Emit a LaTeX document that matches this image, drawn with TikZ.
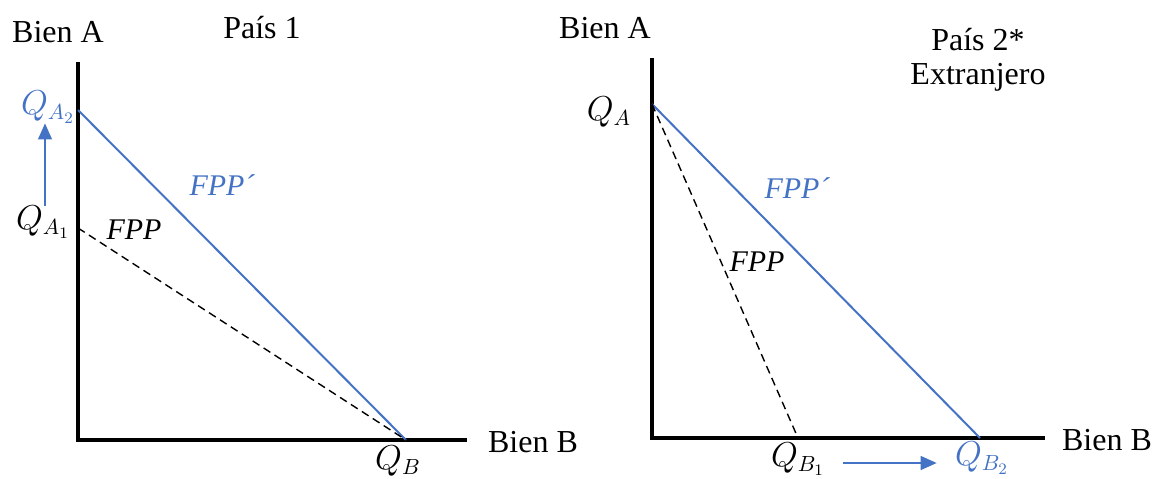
\documentclass[tikz,border=0pt]{standalone}
\usepackage{fontspec}
\setmainfont{Liberation Serif}
\usetikzlibrary{arrows.meta}
\definecolor{fppblue}{RGB}{68,114,196}

\begin{document}
\begin{tikzpicture}[x=0.5pt, y=-0.5pt,
    axisline/.style={line width=2pt},
    fppnew/.style={fppblue, line width=1pt},
    fppold/.style={line width=0.7pt, dash pattern=on 4pt off 2.5pt},
    shiftarrow/.style={fppblue, line width=0.6pt, -{Triangle[length=8pt, width=7pt]}},
    lbl/.style={font=\fontsize{16}{17}\selectfont, inner sep=0pt},
    curve/.style={font=\fontsize{15}{17}\selectfont\itshape, inner sep=0pt}]
    \useasboundingbox (0,0) rectangle (1152,478);

    % Pais 1
    \coordinate (o1) at (78,440);
    \coordinate (ytop1) at (78,62);
    \coordinate (xend1) at (467,440);
    \coordinate (a2) at (78,110);
    \coordinate (a1) at (78,228);
    \coordinate (b1) at (406,440);

    \draw[axisline] (ytop1) -- (o1) -- (xend1);
    \draw[fppnew] (a2) -- (b1);
    \draw[fppold] (a1) -- (b1);

    \node[lbl] (bienA1) at (58,32) {Bien A};
    \node[lbl] (pais1) at (262,28) {País 1};
    \node[lbl] (bienB1) at (533,442) {Bien B};
    \node[lbl, fppblue] (qa2) at (48,107) {$Q_{A_2}$};
    \node[lbl] (qa1) at (43,222) {$Q_{A_1}$};
    \node[lbl] (qb) at (398,461) {$Q_B$};
    \node[curve] (fpp1) at (134,230) {FPP};
    \node[curve, fppblue] (fppn1) at (222,185) {FPP´};
    \draw[shiftarrow] ([xshift=1pt]qa1.north) -- ([xshift=1pt]qa1.north |- qa2.south);

    % Pais 2
    \coordinate (o2) at (652,438);
    \coordinate (ytop2) at (652,58);
    \coordinate (xend2) at (1045,438);
    \coordinate (a) at (652,104);
    \coordinate (bb1) at (798,438);
    \coordinate (bb2) at (980,438);

    \draw[axisline] (ytop2) -- (o2) -- (xend2);
    \draw[fppnew] (a) -- (bb2);
    \draw[fppold] (a) -- (bb1);

    \node[lbl] (bienA2) at (605,28) {Bien A};
    \node[lbl, align=center] (pais2) at (978,60) {País 2*\\Extranjero};
    \node[lbl] (bienB2) at (1107,440) {Bien B};
    \node[lbl] (qa) at (609,112) {$Q_A$};
    \node[lbl] (qb1) at (798,459) {$Q_{B_1}$};
    \node[lbl, fppblue] (qb2) at (982,458) {$Q_{B_2}$};
    \node[curve] (fpp2) at (757,262) {FPP};
    \node[curve, fppblue] (fppn2) at (797,188) {FPP´};
    \coordinate (arrowstart) at ([xshift=9pt, yshift=-2pt]qb1.east);
    \draw[shiftarrow] (arrowstart) -- ([xshift=-9pt]arrowstart -| qb2.west);
\end{tikzpicture}
\end{document}
